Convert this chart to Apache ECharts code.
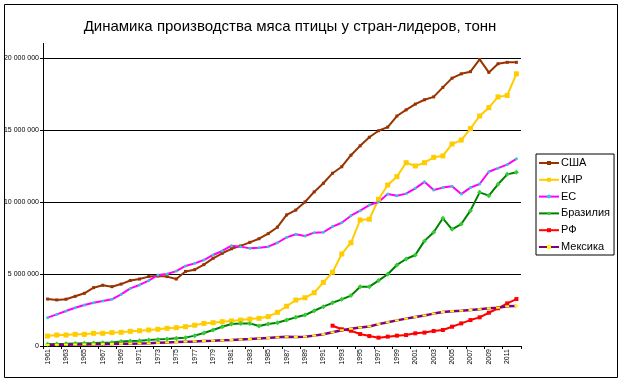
<!DOCTYPE html>
<html><head><meta charset="utf-8">
<script src="https://cdn.jsdelivr.net/npm/echarts@6/dist/echarts.min.js"></script>
<style>html,body{margin:0;padding:0;background:#fff}#c{width:623px;height:384px}</style>
</head><body><div id="c"></div>
<script>
const years = [];
for (let y = 1961; y <= 2012; y++) years.push(String(y));
const yTicks = [0, 5000000, 10000000, 15000000, 20000000];

const usa = [3260000,3200000,3250000,3450000,3660000,4050000,4220000,4120000,4300000,4550000,
4650000,4820000,4860000,4820000,4650000,5180000,5300000,5650000,6090000,6440000,
6750000,6950000,7200000,7450000,7800000,8250000,9100000,9440000,10000000,10700000,
11300000,12000000,12450000,13250000,13900000,14500000,14950000,15200000,15970000,16400000,
16800000,17100000,17300000,17960000,18600000,18900000,19050000,19900000,19000000,19600000,
19700000,19700000];
const china = [690000,760000,760000,810000,810000,880000,880000,930000,950000,1020000,
1060000,1110000,1160000,1230000,1270000,1340000,1440000,1570000,1620000,1690000,
1740000,1800000,1870000,1920000,2040000,2340000,2760000,3190000,3350000,3700000,
4420000,5120000,6390000,7170000,8750000,8800000,10190000,11180000,11760000,12730000,
12500000,12730000,13100000,13200000,14030000,14300000,15100000,15970000,16550000,17300000,
17400000,18900000];
const eu = [1970000,2200000,2430000,2660000,2850000,3000000,3120000,3240000,3590000,4000000,
4240000,4540000,4930000,5000000,5200000,5560000,5740000,5970000,6320000,6600000,
6970000,6900000,6780000,6830000,6900000,7170000,7540000,7760000,7640000,7870000,
7900000,8290000,8560000,9050000,9400000,9790000,10000000,10550000,10440000,10580000,
10950000,11400000,10830000,11000000,11100000,10550000,11000000,11250000,12100000,12350000,
12600000,13000000];
const brazil = [120000,140000,150000,170000,190000,200000,230000,250000,320000,350000,
370000,420000,460000,490000,530000,580000,720000,900000,1110000,1340000,
1530000,1570000,1570000,1390000,1530000,1620000,1800000,1990000,2150000,2450000,
2730000,3000000,3240000,3500000,4120000,4120000,4540000,4980000,5630000,6040000,
6320000,7300000,7900000,8870000,8100000,8470000,9400000,10670000,10440000,11230000,
11920000,12060000];
const russia = [null,null,null,null,null,null,null,null,null,null,
null,null,null,null,null,null,null,null,null,null,
null,null,null,null,null,null,null,null,null,null,
null,1410000,1160000,1060000,830000,690000,580000,650000,720000,760000,
880000,930000,1040000,1110000,1340000,1570000,1800000,1990000,2310000,2620000,
2960000,3260000];
const mexico = [70000,80000,90000,100000,110000,120000,130000,140000,150000,160000,
170000,190000,220000,250000,270000,300000,320000,350000,370000,400000,
420000,450000,480000,520000,560000,600000,640000,630000,650000,720000,
820000,950000,1100000,1200000,1280000,1360000,1520000,1650000,1780000,1900000,
2020000,2120000,2250000,2360000,2420000,2450000,2500000,2550000,2620000,2660000,
2760000,2780000];

const FONT = 'Liberation Sans, Arial, sans-serif';
function fmt(v){ return String(v).replace(/\B(?=(\d{3})+(?!\d))/g, ' '); }

function mk(name, data, color, symbol, size, symColor, lw){
  return {
    name, type: 'line', data,
    lineStyle: {color, width: lw || 2},
    itemStyle: {color: symColor || color, borderColor: symColor || color, borderWidth: 0},
    symbol, symbolSize: size, showSymbol: true,
    emphasis: {disabled: true}, animation: false, connectNulls: false
  };
}

const chart = echarts.init(document.getElementById('c'), null, {renderer: 'canvas'});
chart.setOption({
  animation: false,
  backgroundColor: '#fff',
  title: {
    text: 'Динамика производства мяса птицы у стран-лидеров, тонн',
    left: 285, top: 14, textAlign: 'center',
    textStyle: {fontFamily: FONT, fontSize: 15, fontWeight: 'normal', color: '#000'}
  },
  legend: {
    orient: 'vertical', left: 536, top: 154,
    padding: [3, 4, 2, 2],
    borderColor: '#000', borderWidth: 1,
    itemWidth: 20, itemHeight: 5, itemGap: 4.8,
    textStyle: {fontFamily: FONT, fontSize: 11, color: '#000', lineHeight: 12, padding: [0,0,0,-3]},
    data: ['США','КНР','ЕС','Бразилия','РФ','Мексика']
  },
  grid: {left: 43, right: 102, top: 58, bottom: 38, containLabel: false},
  xAxis: {
    type: 'category', data: years, boundaryGap: true,
    axisLine: {lineStyle: {color: '#000', width: 1}},
    axisTick: {show: true, interval: 1, length: 3, lineStyle: {color: '#000'}},
    axisLabel: {interval: 1, rotate: 90, fontSize: 7, fontFamily: FONT, color: '#000', margin: 3},
    splitLine: {show: false}
  },
  yAxis: {
    type: 'value', min: 0, max: 20000000, interval: 5000000,
    axisLine: {show: true, lineStyle: {color: '#000', width: 1}},
    axisTick: {show: true, length: 3, lineStyle: {color: '#000'}},
    axisLabel: {fontSize: 7, fontFamily: FONT, color: '#000', margin: 4,
      formatter: v => yTicks.indexOf(v) >= 0 ? fmt(v) : ''},
    splitLine: {show: true, lineStyle: {color: '#000', width: 1}}
  },
  series: [
    mk('США', usa, '#993300', 'rect', 3, '#993300'),
    mk('КНР', china, '#FFCC00', 'rect', 5, '#FFCC00'),
    mk('ЕС', eu, '#FF00FF', 'circle', 3, '#33CCCC'),
    mk('Бразилия', brazil, '#008000', 'diamond', 5, '#33CC33'),
    mk('РФ', russia, '#FF0000', 'rect', 4, '#FF0000'),
    mk('Мексика', mexico, '#800080', 'rect', [4,2], '#FFFF00', 2.5)
  ],
  graphic: [
    {type: 'rect', shape: {x: 4.5, y: 4.5, width: 613, height: 373}, style: {fill: null, stroke: '#000', lineWidth: 1}, silent: true, z: -1},
    {type: 'line', shape: {x1: 43.5, y1: 43, x2: 43.5, y2: 58}, style: {stroke: '#000', lineWidth: 1}, silent: true}
  ]
});
</script></body></html>
